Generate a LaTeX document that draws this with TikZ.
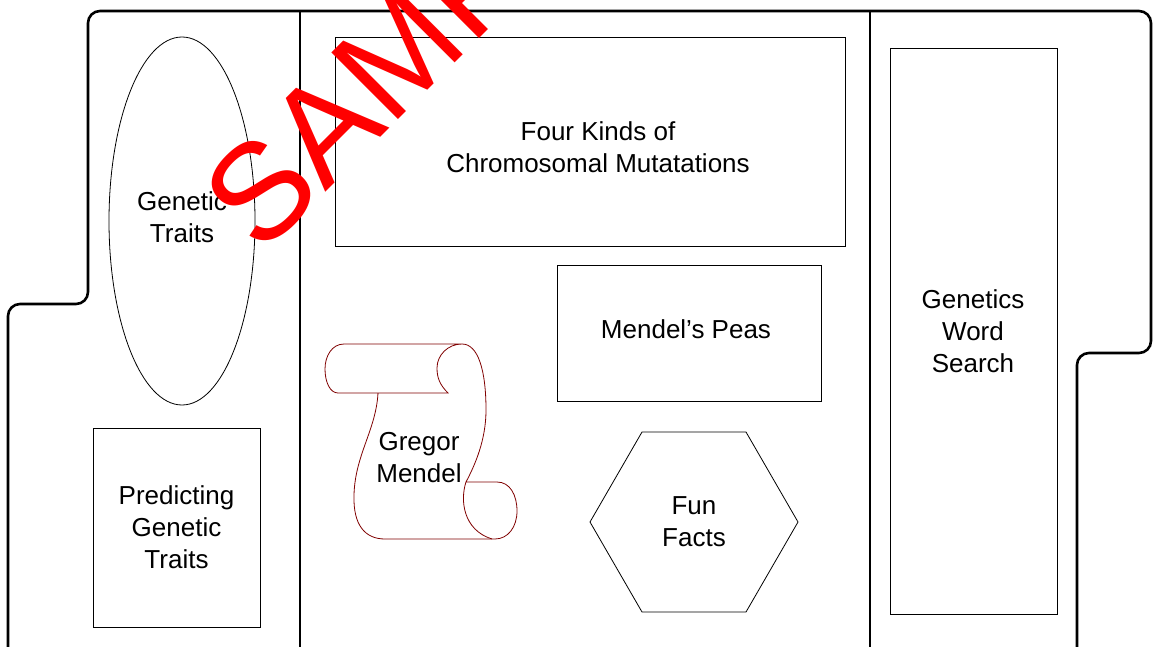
\documentclass[tikz,border=0pt]{standalone}
\usepackage{fontspec}
\setmainfont{Liberation Sans}
\usetikzlibrary{shapes.geometric}
\definecolor{scrollred}{RGB}{128,0,0}
\tikzset{
  outline/.style={line width=2.6pt, rounded corners=12pt},
  divider/.style={line width=2.6pt},
  panelbox/.style={draw=black, line width=0.8pt},
  lbl/.style={align=center, font=\fontsize{26}{32}\selectfont, inner sep=0pt},
  scrollline/.style={draw=scrollred, line width=0.8pt},
}
\begin{document}
\begin{tikzpicture}[x=1pt,y=-1pt]
\clip (0,0) rectangle (1153,647);
\fill[white] (0,0) rectangle (1153,647);
% outer folder outline
\draw[outline] (8,670) -- (8,304) -- (88,304) -- (88,11) -- (1151,11) -- (1151,353) -- (1077,353) -- (1077,670) -- cycle;
\draw[divider] (300,11) -- (300,660);
\draw[divider] (870,11) -- (870,660);
% shapes
\node[panelbox, ellipse, minimum width=146pt, minimum height=368pt, inner sep=0pt] (gt) at (182,221) {};
\node[lbl] (gtl) at (182,217) {Genetic\\Traits};
\node[panelbox, minimum width=167pt, minimum height=199pt, inner sep=0pt] (pgt) at (176.5,527.5) {};
\node[lbl] at (pgt.center) {Predicting\\Genetic\\Traits};
\node[panelbox, minimum width=510pt, minimum height=209pt, inner sep=0pt] (fk) at (590,141.5) {};
\node[lbl] at (598,147) {Four Kinds of\\Chromosomal Mutatations};
\node[panelbox, minimum width=264pt, minimum height=136pt, inner sep=0pt] (mp) at (689,333) {};
\node[lbl] at (686,329) {Mendel’s Peas};
\node[panelbox, minimum width=167pt, minimum height=566pt, inner sep=0pt] (ws) at (973.5,331) {};
\node[lbl] at (973,331) {Genetics\\Word\\Search};
% hexagon
\coordinate (h1) at (642,432);
\coordinate (h2) at (746,432);
\coordinate (h3) at (798,522);
\coordinate (h4) at (746,612);
\coordinate (h5) at (642,612);
\coordinate (h6) at (590,522);
\draw[line width=0.8pt] (h1) -- (h2) -- (h3) -- (h4) -- (h5) -- (h6) -- cycle;
\node[lbl] (ff) at (694,522) {Fun\\Facts};
% scroll
\draw[scrollline]
  (378,393) .. controls (376,430) and (355,455) .. (354,495)
  .. controls (353,525) and (365,539) .. (385,539)
  -- (495,539)
  .. controls (508,539) and (517,527) .. (517,511)
  .. controls (517,495) and (510,482) .. (497,482)
  -- (466,482)
  .. controls (475,465) and (486,440) .. (486,410)
  .. controls (486,370) and (478,344) .. (462,344)
  -- (344,344)
  .. controls (332,344) and (325,356) .. (325,369)
  .. controls (325,382) and (330,393) .. (338,393)
  -- (448,393)
  .. controls (440,385) and (437,378) .. (437,368)
  .. controls (437,355) and (448,344) .. (462,344);
\draw[scrollline] (466,482) .. controls (460,500) and (463,530) .. (492,539);
\node[lbl] (gm) at (419,458) {Gregor\\Mendel};
% watermark
\node[rotate=45, anchor=base west, text=red, font=\fontsize{137}{137}\selectfont, inner sep=0pt] (wm) at (261,257) {SAMPLE};
\end{tikzpicture}
\end{document}
